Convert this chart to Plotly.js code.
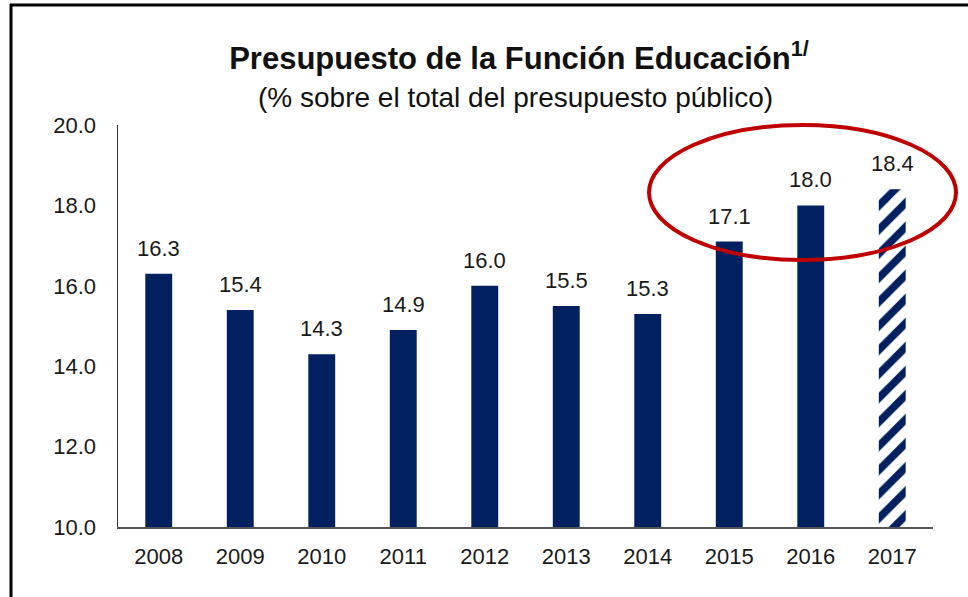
<!DOCTYPE html>
<html>
<head>
<meta charset="utf-8">
<script src="https://cdn.plot.ly/plotly-3.0.1.min.js"></script>
<style>html,body{margin:0;padding:0;background:#fff;}#chart{width:968px;height:597px;}</style>
</head>
<body>
<div id="chart"></div>
<script>
var years = ["2008","2009","2010","2011","2012","2013","2014","2015","2016","2017"];
var values = [16.3, 15.4, 14.3, 14.9, 16.0, 15.5, 15.3, 17.1, 18.0, 18.4];
var isProjection = [false,false,false,false,false,false,false,false,false,true];
var yTicks = [10, 12, 14, 16, 18, 20];
var titleText = "<b>Presupuesto de la Función Educación<sup>1/</sup></b>";
var subtitleText = "(% sobre el total del presupuesto público)";

var navy = "#002060";
var fontFam = "Liberation Sans, Arial, sans-serif";

var solidX = [], solidY = [], hatchX = [], hatchY = [];
years.forEach(function(y, i){
  if (isProjection[i]) { hatchX.push(y); hatchY.push(values[i]); }
  else { solidX.push(y); solidY.push(values[i]); }
});

var traces = [
  {type: "bar", x: solidX, y: solidY, marker: {color: navy, line: {width: 0}}},
  {type: "bar", x: hatchX, y: hatchY,
    marker: {color: "#ffffff", line: {width: 0},
      pattern: {shape: "/", fgcolor: navy, bgcolor: "#ffffff", size: 17, solidity: 0.45}}}
];

var L = 118, R = 933, T = 125, B = 527;
function px(x){ return (x - L) / (R - L); }
function py(y){ return (B - y) / (B - T); }

var annotations = years.map(function(y, i){
  return {x: i, y: values[i], xref: "x", yref: "y", text: values[i].toFixed(1),
    showarrow: false, yanchor: "bottom", yshift: 11,
    font: {family: fontFam, size: 22, color: "#1a1a1a"}};
});
annotations.push({
  xref: "paper", yref: "paper", x: px(515), y: py(97),
  xanchor: "center", yanchor: "middle", showarrow: false,
  text: subtitleText,
  font: {family: fontFam, size: 28, color: "#111111"}
});

var layout = {
  width: 968, height: 597,
  margin: {l: L, r: 968 - R, t: T, b: 597 - B},
  paper_bgcolor: "#ffffff", plot_bgcolor: "#ffffff",
  showlegend: false,
  barmode: "overlay",
  bargap: 0.67,
  title: {
    text: titleText,
    font: {family: fontFam, size: 31, color: "#111111"},
    xref: "container", x: 519 / 968, xanchor: "center",
    yref: "container", y: 1 - 58 / 597, yanchor: "middle"
  },
  xaxis: {
    type: "category",
    categoryorder: "array", categoryarray: years,
    range: [-0.5, years.length - 0.5], autorange: false,
    showline: true, linecolor: "#555555", linewidth: 1.5,
    ticks: "", showgrid: false, zeroline: false,
    tickfont: {family: fontFam, size: 22, color: "#1a1a1a"},
    ticklabelstandoff: 9
  },
  yaxis: {
    range: [10, 20], autorange: false,
    tickvals: yTicks,
    ticktext: yTicks.map(function(t){ return t.toFixed(1); }),
    showline: true, linecolor: "#333333", linewidth: 1.5,
    ticks: "", showgrid: false, zeroline: false,
    tickfont: {family: fontFam, size: 22, color: "#1a1a1a"},
    ticklabelstandoff: 16
  },
  annotations: annotations,
  shapes: [
    {type: "circle", xref: "paper", yref: "paper",
      x0: px(649), x1: px(956), y0: py(260), y1: py(125),
      line: {color: "#C00000", width: 4}},
    {type: "line", xref: "paper", yref: "paper",
      x0: px(10), x1: px(970), y0: py(5), y1: py(5),
      line: {color: "#000000", width: 3}},
    {type: "line", xref: "paper", yref: "paper",
      x0: px(11), x1: px(11), y0: py(4), y1: py(600),
      line: {color: "#000000", width: 3}}
  ]
};

Plotly.newPlot("chart", traces, layout, {displayModeBar: false, staticPlot: true});
</script>
</body>
</html>
